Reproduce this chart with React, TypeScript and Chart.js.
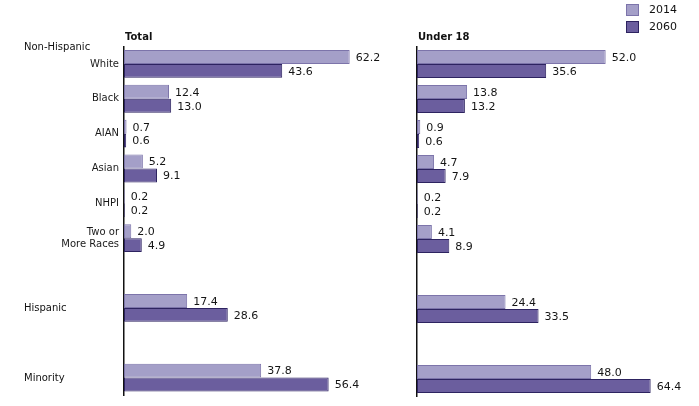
import React, { useEffect, useRef } from "react";
import { Chart, registerables } from "chart.js";

Chart.register(...registerables);

const categories: (string | string[])[] = [
  "White",
  "Black",
  "AIAN",
  "Asian",
  "NHPI",
  ["Two or", "More Races"],
  "",
  "Hispanic",
  "",
  "Minority",
];
// categories whose label is a group heading, set flush left like "Non-Hispanic"
const headingCategories = ["Hispanic", "Minority"];

const total2014: (number | null)[] = [62.2, 12.4, 0.7, 5.2, 0.2, 2.0, null, 17.4, null, 37.8];
const total2060: (number | null)[] = [43.6, 13.0, 0.6, 9.1, 0.2, 4.9, null, 28.6, null, 56.4];
const under2014: (number | null)[] = [52.0, 13.8, 0.9, 4.7, 0.2, 4.1, null, 24.4, null, 48.0];
const under2060: (number | null)[] = [35.6, 13.2, 0.6, 7.9, 0.2, 8.9, null, 33.5, null, 64.4];

const seriesNames = ["2014", "2060"];
const panelTitles = ["Total", "Under 18"];
const groupLabel = "Non-Hispanic";

const FILL = ["#a49fc8", "#6b5e9e"];
const BORDER = ["#7c74aa", "#2d2360"];
const FONT = "'DejaVu Sans', Verdana, sans-serif";
const X_MAX = 70;

function isHeading(label: any) {
  return typeof label === "string" && headingCategories.includes(label);
}

function makeConfig(
  d2014: (number | null)[],
  d2060: (number | null)[],
  title: string,
  isLeft: boolean
): any {
  const overlay = {
    id: "overlay" + (isLeft ? "L" : "R"),
    afterDatasetsDraw(chart: any) {
      const ctx = chart.ctx;
      ctx.save();
      // value labels
      ctx.fillStyle = "#151515";
      ctx.font = `11px ${FONT}`;
      ctx.textAlign = "left";
      ctx.textBaseline = "middle";
      chart.data.datasets.forEach((ds: any, di: number) => {
        const meta = chart.getDatasetMeta(di);
        meta.data.forEach((el: any, i: number) => {
          const v = ds.data[i];
          if (v === null || v === undefined) return;
          ctx.fillText(v.toFixed(1), el.x + 6, el.y + 1);
        });
      });
      // panel title
      const ca = chart.chartArea;
      ctx.font = `bold 10px ${FONT}`;
      ctx.fillStyle = "#111";
      ctx.textBaseline = "middle";
      ctx.fillText(title, ca.left + 1, 37);
      if (isLeft) {
        ctx.font = `10px ${FONT}`;
        ctx.fillStyle = "#111";
        ctx.fillText(groupLabel, 24, 47);
        const yScale = chart.scales.y;
        chart.data.labels.forEach((lab: any, i: number) => {
          if (!isHeading(lab)) return;
          ctx.fillText(lab, 24, yScale.getPixelForValue(i) + 1);
        });
      } else {
        // legend
        const lx = 246;
        const ys = [4, 21];
        seriesNames.forEach((name, k) => {
          ctx.fillStyle = FILL[k];
          ctx.fillRect(lx, ys[k], 13, 12);
          ctx.strokeStyle = BORDER[k];
          ctx.lineWidth = 1;
          ctx.strokeRect(lx + 0.5, ys[k] + 0.5, 12, 11);
          ctx.fillStyle = "#111";
          ctx.font = `11px ${FONT}`;
          ctx.fillText(name, lx + 23, ys[k] + 6.5);
        });
      }
      ctx.restore();
    },
  };

  return {
    type: "bar",
    data: {
      labels: categories,
      datasets: [
        {
          label: seriesNames[0],
          data: d2014,
          backgroundColor: FILL[0],
          borderColor: BORDER[0],
          borderWidth: 1,
          borderSkipped: false,
        },
        {
          label: seriesNames[1],
          data: d2060,
          backgroundColor: FILL[1],
          borderColor: BORDER[1],
          borderWidth: 1,
          borderSkipped: false,
        },
      ],
    },
    options: {
      indexAxis: "y",
      animation: false,
      responsive: false,
      maintainAspectRatio: false,
      layout: {
        padding: { top: 46.5, bottom: 9.5, left: 0, right: 28 },
      },
      datasets: {
        bar: { categoryPercentage: 0.8, barPercentage: 1.0 },
      },
      plugins: {
        legend: { display: false },
        tooltip: { enabled: false },
        title: { display: false },
      },
      scales: {
        x: {
          display: false,
          min: 0,
          max: X_MAX,
        },
        y: {
          display: true,
          grid: { display: false, drawTicks: false },
          border: { display: true, color: "#111", width: 1.5 },
          ticks: {
            display: isLeft,
            padding: 5,
            color: "#1a1a1a",
            font: { family: FONT, size: 10, lineHeight: 1.2 },
            callback(this: any, value: any) {
              const lab = this.getLabelForValue(value);
              const raw = categories[value as number];
              return isHeading(raw) ? "" : raw ?? lab;
            },
          },
          afterFit(scale: any) {
            scale.width = isLeft ? 124 : 37;
          },
        },
      },
    },
    plugins: [overlay],
  };
}

function Panel(props: {
  d2014: (number | null)[];
  d2060: (number | null)[];
  title: string;
  isLeft: boolean;
  left: number;
  width: number;
}) {
  const ref = useRef<HTMLCanvasElement | null>(null);
  useEffect(() => {
    if (!ref.current) return;
    const chart = new Chart(
      ref.current,
      makeConfig(props.d2014, props.d2060, props.title, props.isLeft)
    );
    return () => chart.destroy();
  }, []);
  return (
    <canvas
      ref={ref}
      width={props.width}
      height={406}
      style={{
        position: "absolute",
        left: props.left,
        top: 0,
        width: props.width,
        height: 406,
      }}
    />
  );
}

export default function App() {
  return (
    <div
      style={{
        position: "fixed",
        left: 0,
        top: 0,
        width: 699,
        height: 406,
        background: "#ffffff",
        overflow: "hidden",
      }}
    >
      <Panel d2014={total2014} d2060={total2060} title={panelTitles[0]} isLeft={true} left={0} width={406} />
      <Panel d2014={under2014} d2060={under2060} title={panelTitles[1]} isLeft={false} left={380} width={319} />
    </div>
  );
}
